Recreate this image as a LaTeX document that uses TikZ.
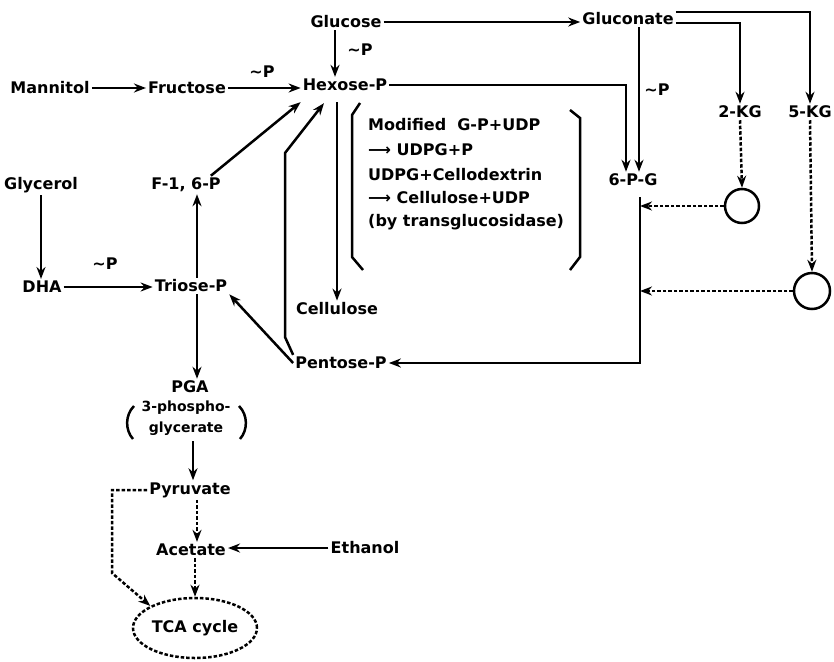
\documentclass[tikz,border=0pt]{standalone}
\usepackage{fontspec}
\setmainfont{DejaVu Sans}
\usetikzlibrary{arrows.meta,shapes.geometric,calc}
\begin{document}
\begin{tikzpicture}[x=1pt,y=-1pt,
  lbl/.style={font=\fontsize{16}{19}\selectfont\bfseries, inner sep=2pt},
  sml/.style={font=\fontsize{14}{16}\selectfont\bfseries, inner sep=1pt},
  conn/.style={line width=2.5pt},
  arr/.style={conn,-{Stealth[length=12pt,width=9pt]}},
  dsh/.style={dash pattern=on 3.5pt off 2pt},
  darr/.style={arr,dsh}]
\useasboundingbox[fill=white] (0,0) rectangle (834,661);

% nodes
\node[lbl] (glu) at (346,22) {Glucose};
\node[lbl] (glc) at (628,19) {Gluconate};
\node[lbl] (man) at (50,88) {Mannitol};
\node[lbl] (fru) at (187,88) {Fructose};
\node[lbl] (hex) at (345,85) {Hexose-P};
\node[lbl] (kg2) at (740,112) {2-KG};
\node[lbl] (kg5) at (810,112) {5-KG};
\node[lbl] (pg6) at (633,180) {6-P-G};
\node[lbl] (gly) at (41,185) {Glycerol};
\node[lbl] (f16) at (186,185) {F-1, 6-P};
\node[lbl] (dha) at (42,287) {DHA};
\node[lbl] (tri) at (191,286) {Triose-P};
\node[lbl] (cel) at (337,309) {Cellulose};
\node[lbl] (pen) at (341,363) {Pentose-P};
\node[lbl] (pga) at (190,387) {PGA};
\node[sml] (phos) at (186,408) {3-phospho-};
\node[sml] (glyc) at (186,429) {glycerate};
\node[lbl] (pyr) at (190,490) {Pyruvate};
\node[lbl] (ace) at (191,550) {Acetate};
\node[lbl] (eth) at (365,548) {Ethanol};
\node[lbl, ellipse, draw, conn, dsh, minimum width=124pt, minimum height=60pt, inner sep=0pt] (tca) at (195,628) {TCA cycle};
\node[circle, draw, conn, minimum size=34pt, inner sep=0pt] (c1) at (742,206) {};
\node[circle, draw, conn, minimum size=36pt, inner sep=0pt] (c2) at (812,291) {};

% labels
\node[lbl] (p1) at (262,72) {∼P};
\node[lbl] (p2) at (360,50) {∼P};
\node[lbl] (p3) at (657,90) {∼P};
\node[lbl] (p4) at (105,264) {∼P};

% box text
\node[lbl, anchor=west] (b1) at (366,125) {Modified\ \ G-P+UDP};
\node[lbl, anchor=west] (b2) at (366,150) {⟶ UDPG+P};
\node[lbl, anchor=west] (b3) at (366,175) {UDPG+Cellodextrin};
\node[lbl, anchor=west] (b4) at (366,198) {⟶ Cellulose+UDP};
\node[lbl, anchor=west] (b5) at (366,222) {(by transglucosidase)};
\draw[conn] (360,103) -- (352,115) -- (352,257) -- (363,270);
\draw[conn] (570,110) -- (580,118) -- (580,257) -- (570,270);

% parentheses
\draw[conn] (134,406) .. controls (125,415) and (125,430) .. (133,439);
\draw[conn] (239,406) .. controls (248,415) and (248,430) .. (240,439);

% connectors
\draw[arr] (man.east) -- (fru.west);
\draw[arr] (fru.east) -- (fru.east -| hex.west);
\draw[arr] ([xshift=-11pt]glu.south) -- ([xshift=-11pt]glu.south |- hex.north);
\draw[arr] (glu.east) -- (glu.east -| glc.west);
\draw[arr] (hex.east) -| ([xshift=-7pt]pg6.north);
\draw[arr] ([xshift=6pt]pg6.north |- glc.south) -- ([xshift=6pt]pg6.north);
\draw[arr] ([yshift=-4pt]glc.east) -| (kg2.north);
\draw[arr] ([yshift=7pt]glc.east) -| (kg5.north);
\draw[darr] (kg2.south) -- (c1.north);
\draw[darr] (kg5.south) -- (c2.north);
\coordinate (vl) at ([xshift=7pt]pg6.south);
\draw[arr] ([xshift=7pt,yshift=-9pt]pg6.south) |- (pen.east);
\draw[darr] (c1.west) -- (c1.west -| vl);
\draw[darr] (c2.west) -- (c2.west -| vl);
\draw[arr] ([yshift=-9pt]hex.south -| cel.north) -- (cel.north);
\draw[arr] ([xshift=-12pt]f16.north east) -- ([yshift=-9pt]hex.south west);
\draw[arr] (pen.north west) -- (285,337) -- (285,153) -- ([xshift=-21pt,yshift=-10pt]hex.south);
\draw[arr] (pen.west) -- (tri.south east);
\draw[arr] (dha.east) -- (dha.east -| tri.west);
\draw[arr] (gly.south) -- (gly.south |- dha.north);
\draw[arr] ([xshift=6pt]tri.north) -- ([xshift=6pt]tri.north |- f16.south);
\draw[arr] ([xshift=6pt]tri.south) -- ([xshift=6pt]tri.south |- pga.north);
\draw[arr] ([xshift=7pt,yshift=-4pt]glyc.south) -- ([xshift=7pt]glyc.south |- pyr.north);
\draw[darr] ([xshift=7pt]pyr.south) -- ([xshift=7pt]pyr.south |- ace.north);
\draw[darr] (ace.south -| tca.north) -- (tca.north);
\draw[arr] (eth.west) -- (eth.west -| ace.east);
\draw[darr] (pyr.west) -- (112,490) -- (112,573) -- (tca.north west);
\end{tikzpicture}
\end{document}
